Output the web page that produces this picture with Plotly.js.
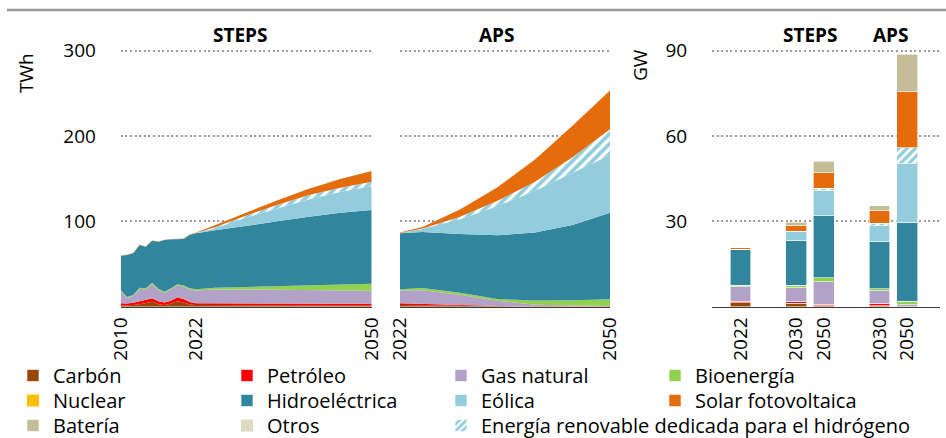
<!DOCTYPE html>
<html><head><meta charset="utf-8">
<script src="https://cdn.plot.ly/plotly-3.0.1.min.js"></script>
<style>html,body{margin:0;padding:0;background:#fff}#chart{width:946px;height:438px}</style>
</head><body><div id="chart"></div>
<script>
// ---------- DATA ----------
// STEPS electricity generation (TWh)
const stepsYears = [2010,2011,2012,2013,2014,2015,2016,2017,2018,2019,2020,2021,2022,2025,2030,2035,2040,2045,2050];
const stepsCarbon = [1.0,1.2,2.0,3.0,4.0,5.8,3.0,2.0,3.5,6.5,5.0,2.5,2.0,1.9,1.8,1.7,1.6,1.5,1.4];
const stepsOil    = [3.0,2.5,2.5,3.0,3.5,4.0,3.5,3.0,3.5,4.5,4.0,3.0,2.0,2.0,2.0,2.0,2.0,2.0,2.0];
const stepsGas    = [14.1,6.5,7.9,15.0,12.7,16.9,13.2,11.3,13.2,13.9,14.7,14.7,15.0,16.3,16.4,16.1,15.8,15.5,15.4];
const stepsBio    = [1.5,1.3,1.3,1.3,1.3,1.3,1.3,1.3,1.3,1.3,1.3,1.3,1.5,2.0,3.0,4.2,5.5,6.8,8.2];
const stepsHydro  = [40.2,49.1,48.9,50.0,48.8,49.4,55.2,60.6,57.5,52.8,54.4,62.5,65.5,67.3,71.3,76.0,80.6,84.2,86.4];
const stepsWind   = [0,0,0,0,0,0,0,0.1,0.2,0.3,0.3,0.4,0.5,2.5,10.0,15.5,20.5,24.5,28.0];
const stepsH2     = [0,0,0,0,0,0,0,0,0,0,0,0,0,1.0,2.3,4.0,4.8,5.0,5.0];
const stepsSolar  = [0.2,0.2,0.2,0.2,0.2,0.2,0.2,0.2,0.2,0.3,0.3,0.4,0.5,2.5,3.8,5.3,7.5,10.0,12.5];

// APS electricity generation (TWh)
const apsYears  = [2022,2025,2030,2035,2040,2045,2050];
const apsCarbon = [2.0,1.5,0.8,0.4,0.3,0.3,0.3];
const apsOil    = [2.0,1.8,0.8,0.3,0.2,0.1,0.1];
const apsGas    = [15.0,16.0,12.4,6.3,1.9,1.2,0.4];
const apsBio    = [1.5,2.5,2.3,2.0,4.9,5.9,7.8];
const apsHydro  = [65.5,65.7,68.9,74.6,79.5,88.2,101.6];
const apsWind   = [0.5,3.5,17.2,34.4,49.2,61.3,67.6];
const apsH2     = [0,0.5,3.1,6.0,10.5,18.0,30.2];
const apsSolar  = [0.5,2.0,8.5,16.0,26.0,37.0,45.3];

// Installed capacity (GW)
const capCats     = ['2022','STEPS 2030','STEPS 2050','APS 2030','APS 2050'];
const capTickText = ['2022','2030','2050','2030','2050'];
const capCarbon   = [1.4,1.2,0.35,0.35,0];
const capOil      = [0.6,0.6,0.5,0.7,0];
const capGas      = [5.0,4.9,8.0,4.5,0.7];
const capBio      = [0.5,0.9,1.4,0.7,1.3];
const capNuclear  = [0,0,0,0,0];
const capHydro    = [12.5,15.8,21.7,16.7,27.7];
const capWind     = [0.2,3.2,8.9,5.5,20.5];
const capH2       = [0,0,0.8,0.9,5.7];
const capSolar    = [0.55,1.9,5.4,4.6,19.7];
const capBattery  = [0,1.2,4.1,1.6,13.1];
const capOther    = [0,0,0,0,0];

// Labels
const names = {
  carbon:'Carbón', oil:'Petróleo', gas:'Gas natural', bio:'Bioenergía',
  nuclear:'Nuclear', hydro:'Hidroeléctrica', wind:'Eólica', solar:'Solar fotovoltaica',
  battery:'Batería', other:'Otros', h2:'Energía renovable dedicada para el hidrógeno'
};
const colors = {
  carbon:'#974806', oil:'#FF0000', gas:'#B3A2C7', bio:'#92D050', nuclear:'#FFC000',
  hydro:'#31859C', wind:'#93CDDD', solar:'#E46C0A', battery:'#C4BD97', other:'#DDD9C3', h2:'#93CDDD'
};
// legend rows (each row is its own legend so rows sit exactly where the reference has them)
const legendRows = [
  ['carbon','oil','gas','bio'],
  ['nuclear','hydro','wind','solar'],
  ['battery','other'],
  ['h2']
];

// ---------- TRACES ----------
const traces = [];
function areaSet(xs, series, xa, ya, grp) {
  series.forEach(([key, vals]) => {
    const t = {
      type:'scatter', mode:'lines', x:xs, y:vals, xaxis:xa, yaxis:ya,
      stackgroup:grp, line:{width:0, color:colors[key]}, fillcolor:colors[key],
      showlegend:false, hoverinfo:'skip', name:names[key]
    };
    if (key === 'h2') {
      t.fillcolor = '#FFFFFF';
      t.fillpattern = {shape:'/', fgcolor:colors.h2, bgcolor:'#FFFFFF', size:7, solidity:0.55};
    }
    traces.push(t);
  });
}
areaSet(stepsYears, [['carbon',stepsCarbon],['oil',stepsOil],['gas',stepsGas],['bio',stepsBio],
  ['hydro',stepsHydro],['wind',stepsWind],['h2',stepsH2],['solar',stepsSolar]], 'x','y','s');
areaSet(apsYears, [['carbon',apsCarbon],['oil',apsOil],['gas',apsGas],['bio',apsBio],
  ['hydro',apsHydro],['wind',apsWind],['h2',apsH2],['solar',apsSolar]], 'x2','y2','a');

const barSeries = [['carbon',capCarbon],['oil',capOil],['gas',capGas],['bio',capBio],['nuclear',capNuclear],
  ['hydro',capHydro],['wind',capWind],['h2',capH2],['solar',capSolar],['battery',capBattery],['other',capOther]];
barSeries.forEach(([key, vals]) => {
  const zero = vals.every(v => v === 0);
  const m = {color:colors[key], line:{color:'#FFFFFF', width: zero ? 0 : 0.6}};
  if (key === 'h2') {
    m.color = '#FFFFFF';
    m.pattern = {shape:'/', fgcolor:colors.h2, bgcolor:'#FFFFFF', size:6, solidity:0.55};
  }
  const row = legendRows.findIndex(r => r.includes(key));
  traces.push({type:'bar', x:capCats, y:vals, xaxis:'x3', yaxis:'y3', name:names[key],
    marker:m, legend: row === 0 ? 'legend' : 'legend' + (row + 1),
    legendrank: legendRows[row].indexOf(key) + 1, hoverinfo:'skip'});
});

// ---------- LAYOUT ----------
const W = 946, H = 438;
const px = v => v / W, py = v => 1 - v / H;
const font = '"Open Sans", Lato, sans-serif';
const grid = {showgrid:true, gridcolor:'#9a9a9a', gridwidth:2, griddash:'2px,2.6px', zeroline:false};
const xbase = {type:'linear', showgrid:false, zeroline:false, showline:true, linecolor:'#3a3a3a', linewidth:1,
  ticks:'outside', ticklen:2, tickcolor:'rgba(0,0,0,0)', tickangle:-90, tickfont:{size:19, color:'#000'}, fixedrange:true};
const ybase = Object.assign({}, grid, {ticks:'outside', ticklen:20, tickcolor:'rgba(0,0,0,0)',
  tickfont:{size:19, color:'#000'}, showline:false, fixedrange:true, domain:[py(306.7), py(46.4)]});

function ann(text, x, y, size, angle) {
  return {text:text, x:px(x), y:py(y), xref:'paper', yref:'paper', xanchor:'center', yanchor:'middle',
    showarrow:false, textangle:angle||0, font:{size:size}};
}
function legendAt(x, yTop, fixedWidth) {
  const l = {orientation:'h', x:px(x), xanchor:'left', y:py(yTop), yanchor:'top',
    font:{size:20, color:'#000'}, traceorder:'normal', itemwidth:30, bgcolor:'rgba(0,0,0,0)', borderwidth:0};
  if (fixedWidth) { l.entrywidth = 169; l.entrywidthmode = 'pixels'; }
  return l;
}

const layout = {
  width:W, height:H, margin:{l:0,r:0,t:0,b:0,autoexpand:false}, paper_bgcolor:'#fff', plot_bgcolor:'rgba(0,0,0,0)',
  font:{family:font, color:'#000'}, barmode:'stack', bargap:0.25, hovermode:false,
  xaxis: Object.assign({}, xbase, {domain:[px(120.7), px(371.7)], range:[2010,2050], tickvals:[2010,2022,2050], anchor:'y'}),
  xaxis2: Object.assign({}, xbase, {domain:[px(400), px(610)], range:[2022,2050], tickvals:[2022,2050], anchor:'y2'}),
  xaxis3: Object.assign({}, xbase, {type:'category', domain:[px(712), px(940)],
     categoryorder:'array', categoryarray:['2022',' ','STEPS 2030','STEPS 2050','  ','APS 2030','APS 2050'],
     range:[-1.025, 7.176], tickvals:capCats, ticktext:capTickText, anchor:'y3'}),
  yaxis: Object.assign({}, ybase, {anchor:'x', range:[0,305], tickvals:[100,200,300]}),
  yaxis2: Object.assign({}, ybase, {anchor:'x2', range:[0,305], tickvals:[100,200,300], showticklabels:false}),
  yaxis3: Object.assign({}, ybase, {anchor:'x3', range:[0,91.5], tickvals:[30,60,90]}),
  showlegend:true,
  legend:  legendAt(13, 356, true),
  legend2: legendAt(13, 381, true),
  legend3: legendAt(13, 406, true),
  legend4: legendAt(441, 406, false),
  shapes:[{type:'line', xref:'paper', yref:'paper', x0:px(7), x1:1, y0:py(10), y1:py(10), line:{color:'#9a9a9a', width:2.6}}],
  annotations:[
    ann('<b>STEPS</b>', 240, 35, 19), ann('<b>APS</b>', 497, 35, 19),
    ann('<b>STEPS</b>', 810, 35, 19), ann('<b>APS</b>', 891, 35, 19),
    ann('TWh', 26, 73, 19, -90), ann('GW', 640, 65, 19, -90)
  ]
};

Plotly.newPlot('chart', traces, layout, {displayModeBar:false, staticPlot:true});
</script>
</body></html>
